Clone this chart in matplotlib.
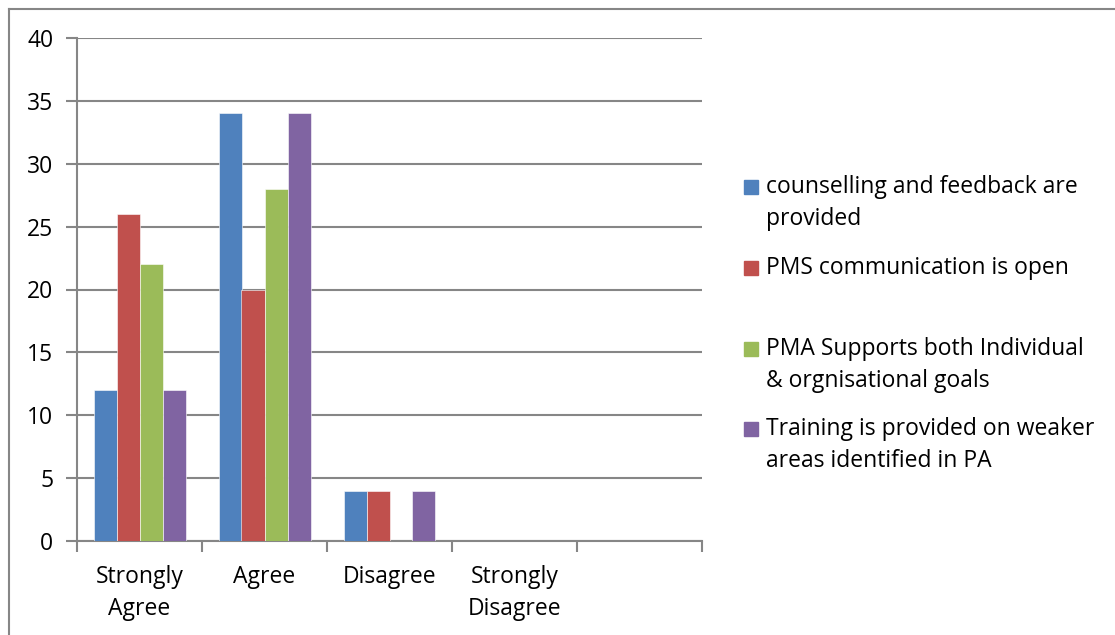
import matplotlib.pyplot as plt
import numpy as np
from matplotlib.lines import Line2D
from matplotlib.patches import Rectangle

categories = ['Strongly\nAgree', 'Agree', 'Disagree', 'Strongly\nDisagree', '']
series_names = ['counselling and feedback are\nprovided',
                'PMS communication is open',
                'PMA Supports both Individual\n& orgnisational goals',
                'Training is provided on weaker\nareas identified in PA']
counselling = [12, 34, 4, 0]
pms_open = [26, 20, 4, 0]
pma_support = [22, 28, 0, 0]
training = [12, 34, 4, 0]
colors = ['#4F81BD', '#C0504D', '#9BBB59', '#8064A2']

plt.rcParams['font.family'] = ['Open Sans', 'DejaVu Sans']
grey = '#868686'
fsize = 16.5

fig = plt.figure(figsize=(11.15, 6.35), dpi=100)
ax = fig.add_axes([77 / 1115, 94 / 635, 625 / 1115, 503 / 635])

values = [counselling, pms_open, pma_support, training]
width = 0.184
for i, (vals, c) in enumerate(zip(values, colors)):
    x = np.arange(len(vals)) + 0.5 + (i - 1.5) * width
    ax.bar(x, vals, width, color=c, edgecolor='white', linewidth=0.4, zorder=3)

ax.set_xlim(0, len(categories))
ax.set_ylim(0, 40)
ax.set_yticks(range(0, 41, 5))
ax.yaxis.grid(True, color=grey, linewidth=1.5, zorder=0)
ax.set_xticks(range(len(categories) + 1))
ax.set_xticklabels([])
ax.set_xticks(np.arange(len(categories)) + 0.5, minor=True)
ax.set_xticklabels(categories, minor=True, fontsize=fsize, linespacing=1.45)
ax.tick_params(axis='x', which='minor', length=0, pad=17)
ax.tick_params(axis='x', which='major', length=8, width=1.5, color=grey)
ax.tick_params(axis='y', length=8, width=1.5, color=grey, labelsize=fsize, pad=9)
for side in ['top', 'right']:
    ax.spines[side].set_visible(False)
for side in ['left', 'bottom']:
    ax.spines[side].set_color(grey)
    ax.spines[side].set_linewidth(1.5)

# legend drawn by hand so the uneven entry spacing can be kept
legend_y = [187, 268, 349, 429]
for name, c, y in zip(series_names, colors, legend_y):
    fig.patches.append(Rectangle((744 / 1115, 1 - (y + 7) / 635), 14 / 1115, 14 / 635,
                                 transform=fig.transFigure, color=c))
    yc = y + (16 if '\n' in name else 0)
    fig.text(766 / 1115, 1 - yc / 635, name, fontsize=fsize, va='center', ha='left',
             linespacing=1.45, transform=fig.transFigure)

# outer frame: top and left edges only
fig.add_artist(Line2D([9 / 1115, 1], [1 - 9 / 635] * 2, color=grey, linewidth=1.5))
fig.add_artist(Line2D([9 / 1115] * 2, [0, 1 - 9 / 635], color=grey, linewidth=1.5))

fig.savefig('out.png', dpi=100)
